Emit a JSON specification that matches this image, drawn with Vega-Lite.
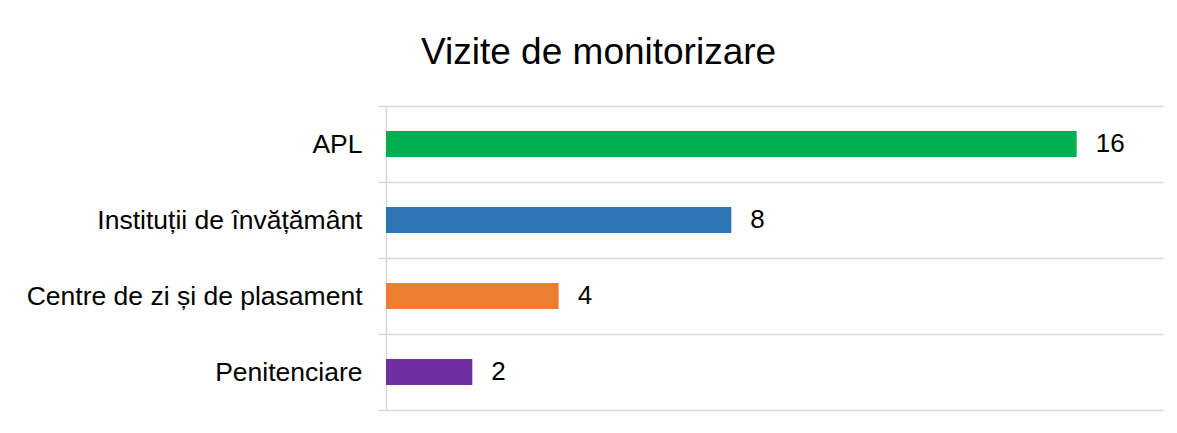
{
  "$schema": "https://vega.github.io/schema/vega-lite/v6.json",
  "autosize": {"type": "none"},
  "padding": {"left": 386, "top": 106, "right": 14, "bottom": 23},
  "width": 777,
  "height": 304,
  "background": "white",
  "title": {
    "text": "Vizite de monitorizare",
    "anchor": "middle",
    "frame": "bounds",
    "fontSize": 37,
    "fontWeight": "normal",
    "font": "Liberation Sans",
    "color": "#000000",
    "offset": 21,
    "dx": 4
  },
  "config": {
    "view": {"stroke": null},
    "font": "Liberation Sans"
  },
  "data": {
    "values": [
      {"categorie": "APL", "vizite": 16, "grup": "a"},
      {"categorie": "Instituții de învățământ", "vizite": 8, "grup": "b"},
      {"categorie": "Centre de zi și de plasament", "vizite": 4, "grup": "c"},
      {"categorie": "Penitenciare", "vizite": 2, "grup": "d"}
    ]
  },
  "encoding": {
    "y": {
      "field": "categorie",
      "type": "nominal",
      "sort": null,
      "scale": {"paddingInner": 0, "paddingOuter": 0},
      "axis": {
        "title": null,
        "tickBand": "extent",
        "grid": true,
        "gridColor": "#d9d9d9",
        "gridWidth": 1.5,
        "domainColor": "#d9d9d9",
        "domainWidth": 1.5,
        "tickColor": "#d9d9d9",
        "tickWidth": 1.5,
        "tickSize": 8,
        "labelPadding": 16,
        "labelFontSize": 26.5,
        "labelColor": "#000000",
        "labelFont": "Liberation Sans",
        "labelLimit": 600
      }
    },
    "x": {
      "field": "vizite",
      "type": "quantitative",
      "scale": {"domain": [0, 18], "nice": false},
      "axis": null
    }
  },
  "layer": [
    {
      "mark": {"type": "bar", "size": 26},
      "encoding": {
        "color": {
          "field": "grup",
          "type": "nominal",
          "scale": {"domain": ["a", "b", "c", "d"], "range": ["#00b050", "#2e75b6", "#ed7d31", "#7030a0"]},
          "legend": null
        }
      }
    },
    {
      "mark": {"type": "text", "align": "left", "baseline": "middle", "dx": 19, "fontSize": 26, "color": "#000000", "font": "Liberation Sans"},
      "encoding": {
        "text": {"field": "vizite", "type": "quantitative"}
      }
    }
  ]
}
